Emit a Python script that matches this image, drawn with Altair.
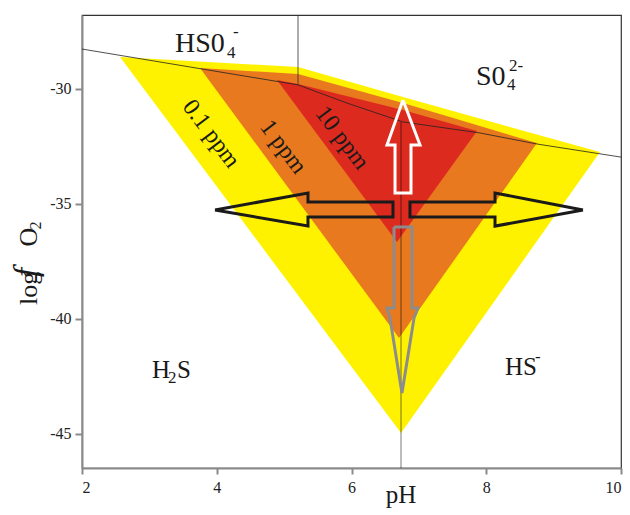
import altair as alt
import pandas as pd

SERIF = "Liberation Serif"

# ---- axes ----
X_DOMAIN = [2, 10]
Y_DOMAIN = [-46.5, -26.8]
X_TICKS = [2, 4, 6, 8, 10]
Y_TICKS = [-45, -40, -35, -30]

# ---- concentration fields (pH, log fO2 vertices) ----
YELLOW_PH = [2.564, 5.206, 6.764, 9.688, 6.735]
YELLOW_LOGF = [-28.63, -29.06, -30.37, -32.76, -44.98]
ORANGE_PH = [3.751, 5.206, 6.764, 8.753, 6.705]
ORANGE_LOGF = [-29.10, -29.37, -30.63, -32.37, -40.85]
RED_PH = [4.894, 5.206, 6.764, 7.863, 6.675]
RED_LOGF = [-29.63, -29.80, -30.93, -31.84, -36.67]

# ---- stability boundaries ----
BOUND_PH = [2.0, 5.206, 5.933, 6.764, 7.907, 8.753, 10.0]
BOUND_LOGF = [-28.28, -29.84, -30.63, -31.45, -31.93, -32.41, -32.98]
VLINE1_PH = [5.206, 5.206]
VLINE1_LOGF = [-26.8, -29.84]
VLINE2_PH = [6.735, 6.735]
VLINE2_LOGF = [-31.45, -46.5]

# ---- arrows ----
UP_PH = [6.764, 7.017, 6.883, 6.883, 6.646, 6.646, 6.527]
UP_LOGF = [-30.50, -32.45, -32.45, -34.54, -34.54, -32.45, -32.45]
LEFT_PH = [3.974, 5.354, 5.354, 6.616, 6.616, 5.354, 5.354]
LEFT_LOGF = [-35.28, -34.54, -34.93, -34.93, -35.58, -35.58, -35.98]
RIGHT_PH = [9.436, 8.130, 8.130, 6.868, 6.868, 8.130, 8.130]
RIGHT_LOGF = [-35.28, -34.54, -34.93, -34.93, -35.58, -35.58, -35.98]
DOWN_PH = [6.631, 6.631, 6.527, 6.571, 6.749, 6.928, 6.987, 6.898, 6.898]
DOWN_LOGF = [-36.02, -39.54, -39.54, -39.98, -43.24, -39.98, -39.54, -39.54, -36.02]

# ---- labels ----
BAND_TEXT = ["0.1 ppm", "1 ppm", "10 ppm"]
BAND_PH = [3.915, 4.983, 5.859]
BAND_LOGF = [-31.97, -32.54, -32.15]

BIG_TEXT = ["HS0", "S0"]
BIG_PH = [3.380, 7.848]
BIG_LOGF = [-28.41, -29.84]
MID_TEXT = ["H", "S", "HS"]
MID_PH = [3.039, 3.410, 8.278]
MID_LOGF = [-42.59, -42.59, -42.46]
SMALL_TEXT = ["4", "-", "4", "2-", "2", "-"]
SMALL_PH = [4.152, 4.241, 8.308, 8.338, 3.276, 8.724]
SMALL_LOGF = [-28.67, -27.76, -30.06, -29.24, -42.80, -41.89]

YT_TEXT = ["log", "O"]
YT_PH = [1.332, 1.332]
YT_LOGF = [-39.41, -36.87]
YT_ITALIC = ["f"]
YT_I_PH = [1.332]
YT_I_LOGF = [-38.19]
YT_SUB = ["2"]
YT_SUB_PH = [1.395]
YT_SUB_LOGF = [-36.13]
XT_TEXT = ["pH"]
XT_PH = [6.735]
XT_LOGF = [-48.02]


def path(xs, ys, close=True):
    xs = list(xs) + ([xs[0]] if close else [])
    ys = list(ys) + ([ys[0]] if close else [])
    return pd.DataFrame({"pH": xs, "logf": ys, "i": list(range(len(xs)))})


def labels(texts, xs, ys):
    return pd.DataFrame({"pH": xs, "logf": ys, "t": texts})


AXIS_STYLE = dict(
    title="",
    grid=False,
    domainColor="#8a8a8a",
    domainWidth=2,
    tickColor="#8a8a8a",
    tickWidth=2,
    labelFont=SERIF,
    labelFontSize=16,
    labelColor="#222222",
    labelExpr="'' + datum.value",
)

X = alt.X(
    "pH:Q",
    scale=alt.Scale(domain=X_DOMAIN, nice=False, zero=False),
    axis=alt.Axis(values=X_TICKS, tickSize=6, labelPadding=5, **AXIS_STYLE),
)
Y = alt.Y(
    "logf:Q",
    scale=alt.Scale(domain=Y_DOMAIN, nice=False, zero=False),
    axis=alt.Axis(values=Y_TICKS, tickSize=7, labelPadding=4, **AXIS_STYLE),
)


def fill_layer(xs, ys, color):
    return alt.Chart(path(xs, ys)).mark_line(
        filled=True, color=color, strokeWidth=0
    ).encode(x=X, y=Y, order="i:Q")


def stroke_layer(df, color, width, opacity=1.0):
    return alt.Chart(df).mark_line(
        color=color, strokeWidth=width, strokeJoin="miter", opacity=opacity
    ).encode(x=X, y=Y, order="i:Q")


def text_layer(df, size, align="left", baseline="alphabetic", angle=0, style="normal"):
    return alt.Chart(df).mark_text(
        font=SERIF, fontSize=size, align=align, baseline=baseline,
        angle=angle, fontStyle=style, color="#1a1a1a"
    ).encode(x=X, y=Y, text="t:N")


layers = [
    fill_layer(YELLOW_PH, YELLOW_LOGF, "#FFF200"),
    fill_layer(ORANGE_PH, ORANGE_LOGF, "#E8791F"),
    fill_layer(RED_PH, RED_LOGF, "#DD2A1F"),
    stroke_layer(path(BOUND_PH, BOUND_LOGF, close=False), "#222222", 1, 0.8),
    stroke_layer(path(VLINE1_PH, VLINE1_LOGF, close=False), "#333333", 1, 0.8),
    stroke_layer(path(VLINE2_PH, VLINE2_LOGF, close=False), "#000000", 1.5, 0.35),
    stroke_layer(path(UP_PH, UP_LOGF), "#ffffff", 3),
    stroke_layer(path(LEFT_PH, LEFT_LOGF), "#1a1a1a", 3),
    stroke_layer(path(RIGHT_PH, RIGHT_LOGF), "#1a1a1a", 3),
    stroke_layer(path(DOWN_PH, DOWN_LOGF), "#8c8c8c", 3),
    text_layer(labels(BAND_TEXT, BAND_PH, BAND_LOGF), 24, align="center",
               baseline="middle", angle=53),
    text_layer(labels(BIG_TEXT, BIG_PH, BIG_LOGF), 28),
    text_layer(labels(MID_TEXT, MID_PH, MID_LOGF), 25),
    text_layer(labels(SMALL_TEXT, SMALL_PH, SMALL_LOGF), 17),
    text_layer(labels(YT_TEXT, YT_PH, YT_LOGF), 26, angle=270),
    text_layer(labels(YT_ITALIC, YT_I_PH, YT_I_LOGF), 33, angle=270, style="italic"),
    text_layer(labels(YT_SUB, YT_SUB_PH, YT_SUB_LOGF), 16, angle=270),
    text_layer(labels(XT_TEXT, XT_PH, XT_LOGF), 25, align="center"),
]

chart = alt.layer(*layers).properties(
    width=539,
    height=453,
    autosize=alt.AutoSizeParams(type="none"),
    padding={"left": 82, "top": 15, "right": 9, "bottom": 47},
).configure_view(
    stroke="#333333", strokeWidth=1.2
)

chart.save("out.html", embed_options={"renderer": "svg", "actions": False})
